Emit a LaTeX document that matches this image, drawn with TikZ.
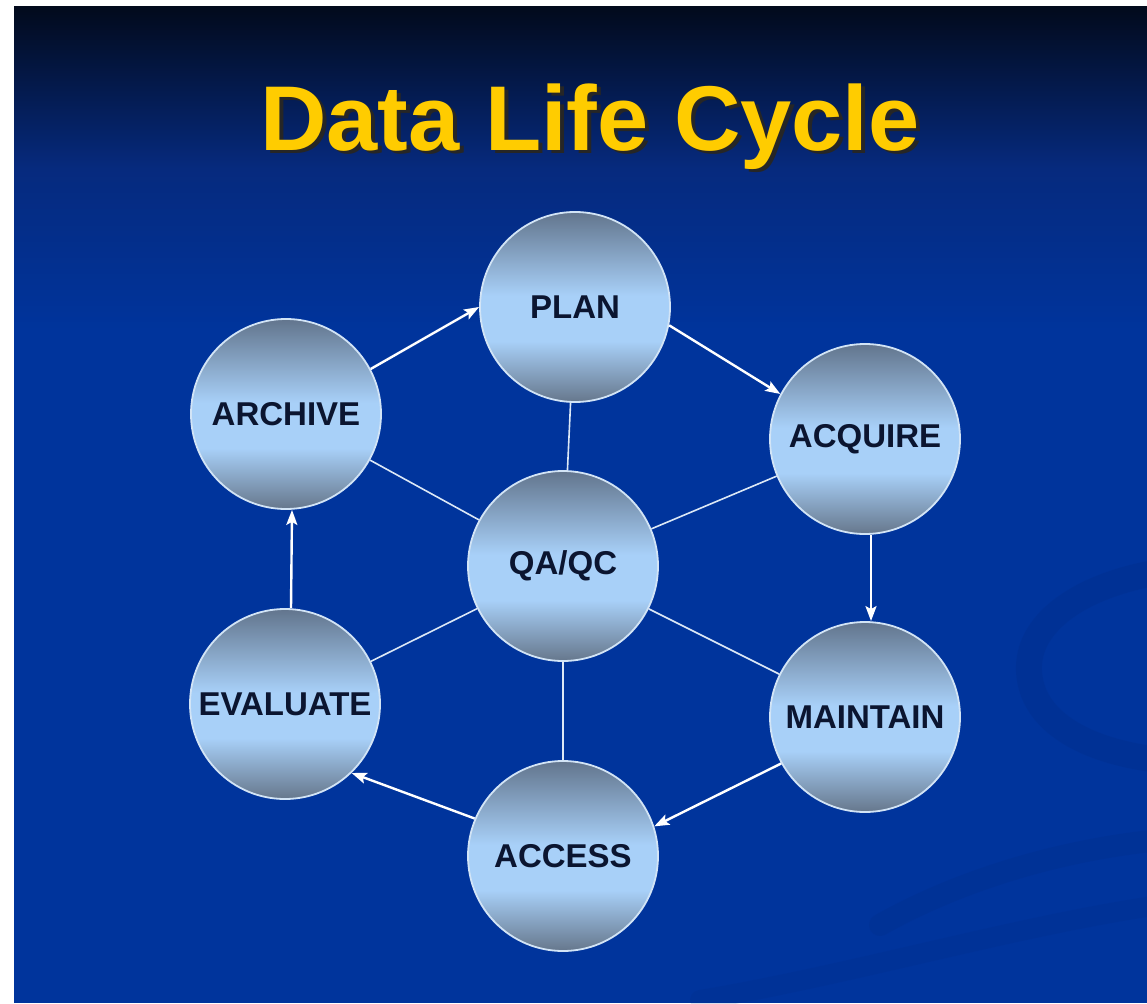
\documentclass[tikz,border=0pt]{standalone}
\usepackage{fontspec}
\setmainfont{Liberation Sans}
\usetikzlibrary{arrows.meta}

\definecolor{skytop}{HTML}{020A1C}
\definecolor{skymid}{HTML}{062A7E}
\definecolor{deepblue}{HTML}{00349C}
\definecolor{swirl}{HTML}{002A80}
\definecolor{gold}{HTML}{FFCC00}
\definecolor{ballTop}{HTML}{62758D}
\definecolor{ballLight}{HTML}{A8D0F8}
\definecolor{ballBot}{HTML}{66778C}
\definecolor{rim}{HTML}{D2E4F6}
\definecolor{ink}{HTML}{0B1530}
\definecolor{spoke}{HTML}{DCE8F6}

% grey-blue to light-blue to grey-blue band across each ball
\pgfdeclareverticalshading{ballshade}{100bp}{%
  color(0bp)=(ballBot); color(25bp)=(ballBot); color(41bp)=(ballLight);
  color(53bp)=(ballLight); color(75bp)=(ballTop); color(100bp)=(ballTop)}

\tikzset{
  ball/.style={circle, minimum size=190pt, inner sep=0pt, draw=rim,
    line width=1.8pt, shading=ballshade, text=ink,
    font=\fontsize{33}{33}\bfseries\selectfont},
  flow/.style={draw=white, line width=2.4pt,
    -{Stealth[length=15pt,width=11pt,inset=3pt]}},
  link/.style={draw=spoke, line width=1.6pt},
}

\newcommand{\shadowed}[1]{%
  \rlap{\hspace{4pt}\raisebox{-4pt}{\textcolor{black!85}{#1}}}#1}

\begin{document}
\begin{tikzpicture}[x=1pt,y=-1pt]
  \useasboundingbox (0,0) rectangle (1147,1003);
  \fill[white] (0,0) rectangle (1147,1003);

  % background: dark band at the top fading into solid blue
  \fill[deepblue] (14,7) rectangle (1147,1003);
  \shade[top color=skytop, bottom color=deepblue, middle color=skymid]
    (14,7) rectangle (1147,330);

  % faint swirls in the lower right
  \draw[swirl, line width=26pt, opacity=0.22, line cap=round]
    (1160,572) .. controls (1080,585) and (1020,625) .. (1030,680)
    .. controls (1038,725) and (1090,752) .. (1160,760);
  \draw[swirl, line width=22pt, opacity=0.18, line cap=round]
    (880,925) .. controls (960,880) and (1060,850) .. (1160,840);
  \draw[swirl, line width=20pt, opacity=0.15, line cap=round]
    (700,1000) .. controls (850,975) and (1020,925) .. (1160,905);

  % title with drop shadow
  \node[anchor=base, text=gold,
    font=\fontsize{92}{92}\bfseries\selectfont] (title) at (590,150)
    {\shadowed{Data Life Cycle}};

  % stages of the cycle
  \node[ball] (plan)     at (575,307) {PLAN};
  \node[ball] (acquire)  at (865,439) {ACQUIRE};
  \node[ball] (maintain) at (865,717) {MAINTAIN};
  \node[ball] (access)   at (563,856) {ACCESS};
  \node[ball] (evaluate) at (285,704) {EVALUATE};
  \node[ball] (archive)  at (286,414) {ARCHIVE};
  \node[ball] (qaqc)     at (563,566) {QA/QC};

  % spokes from the hub
  \foreach \n in {plan,acquire,maintain,access,evaluate,archive}
    \path[link] (qaqc) -- (\n);

  % the cycle itself
  \path[flow] (archive.28) -- (plan.west);
  \path[flow] (plan.-11) -- (acquire.152);
  \path[flow] ([xshift=6pt]acquire.south) -- ([xshift=6pt]maintain.north);
  \path[flow] (maintain.209) -- (access.18);
  \path[flow] (access.157) -- (evaluate.-46);
  \path[flow] ([xshift=6pt]evaluate.north) -- ([xshift=6pt]archive.south);
\end{tikzpicture}
\end{document}
